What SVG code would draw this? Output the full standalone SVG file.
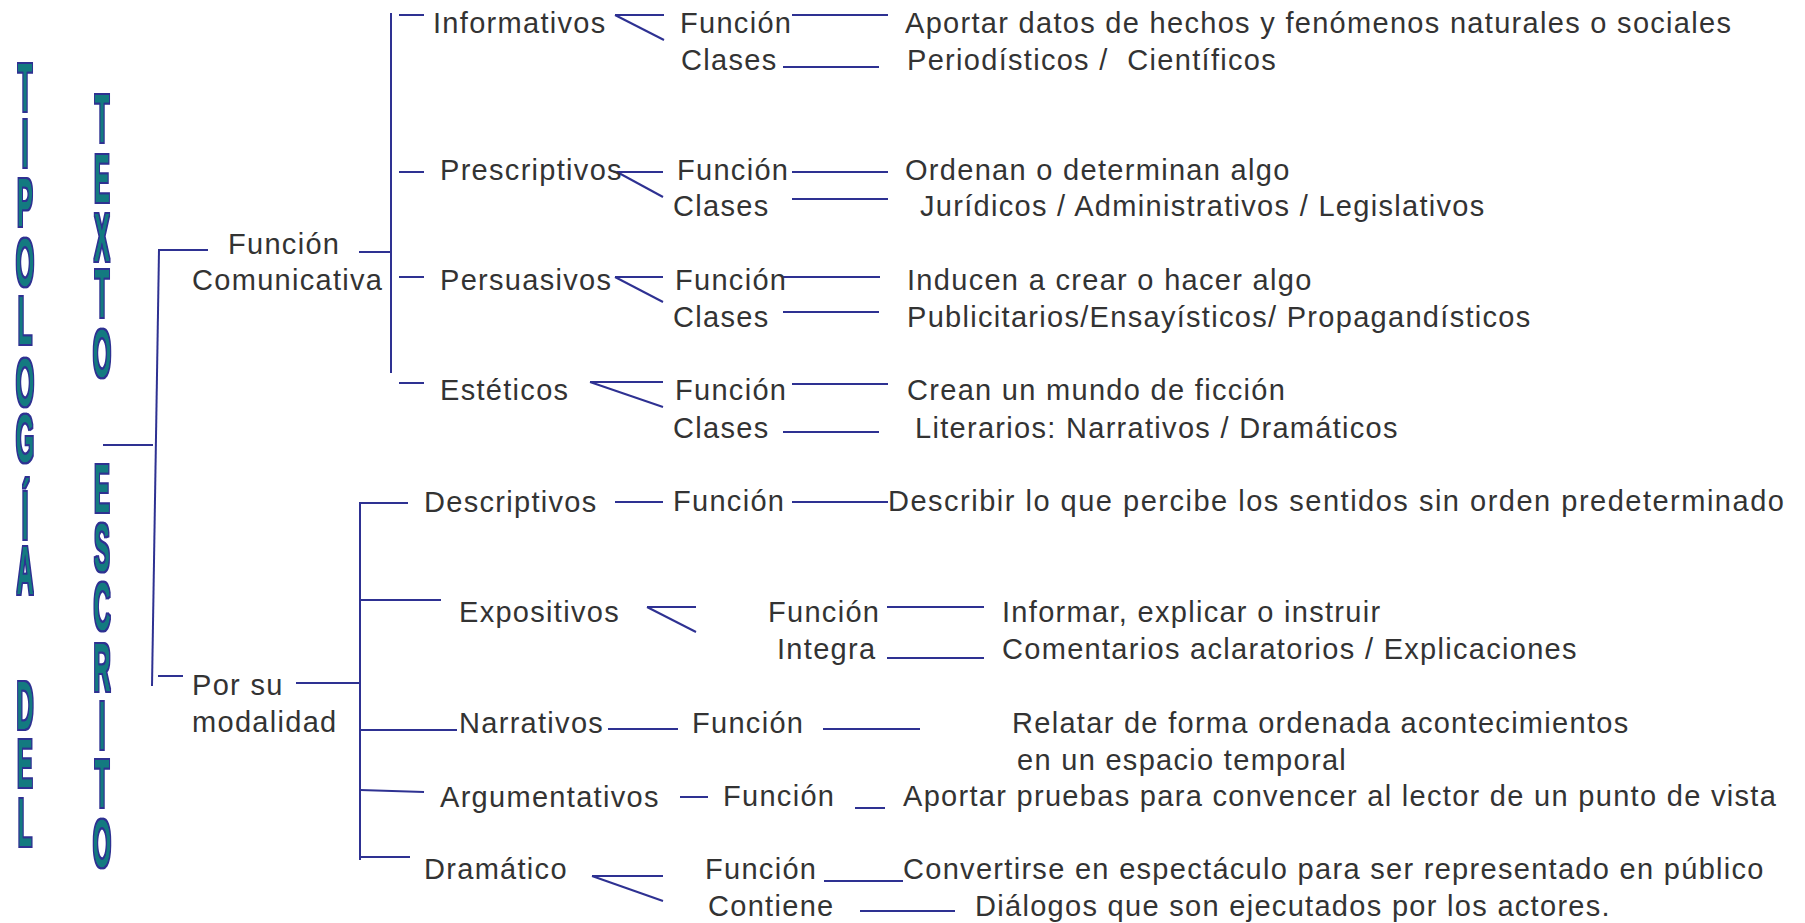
<svg xmlns="http://www.w3.org/2000/svg" width="1805" height="923" viewBox="0 0 1805 923">
<style>
.t{font-family:"Liberation Sans",Arial,Helvetica,sans-serif;font-size:29px;fill:#333333;letter-spacing:1.3px}
.wa{font-family:"Liberation Sans",Arial,Helvetica,sans-serif;font-weight:bold;font-size:68px;fill:#137a80;stroke:none;text-anchor:middle}
.c line{stroke:#2e3192;stroke-width:2;fill:none}
</style>
<defs>
<filter id="outline" x="-0.6" y="-0.05" width="2.2" height="1.1" color-interpolation-filters="sRGB">
<feMorphology in="SourceAlpha" operator="dilate" radius="4.2 1.5" result="d"/>
<feFlood flood-color="#2e3192"/>
<feComposite in2="d" operator="in" result="o"/>
<feMorphology in="SourceAlpha" operator="erode" radius="1.2 0.4" result="e"/>
<feComposite in="SourceGraphic" in2="e" operator="in" result="inner"/>
<feMerge><feMergeNode in="o"/><feMergeNode in="inner"/></feMerge>
</filter>
</defs>
<rect width="1805" height="923" fill="#ffffff"/>

<g id="tipologia-del" transform="translate(25 0) scale(0.35 1)" filter="url(#outline)">
<text class="wa" x="0 0 0 0 0 0 0 0 0" y="111 167 226 286 344 406 462 539 594">TIPOLOGÍA</text>
<text class="wa" x="0 0 0" y="729 787 846">DEL</text>
</g>

<g id="texto-escrito" transform="translate(102 0) scale(0.35 1)" filter="url(#outline)">
<text class="wa" x="0 0 0 0 0" y="142 202 261 317 377">TEXTO</text>
<text class="wa" x="0 0 0 0 0 0 0" y="512 571 630 691 749 807 867">ESCRITO</text>
</g>

<g id="connectors" class="c">
<line x1="103" y1="445" x2="153" y2="445"/>
<line x1="159" y1="250" x2="152" y2="686"/>
<line x1="158" y1="250" x2="208" y2="250"/>
<line x1="158" y1="676" x2="183" y2="676"/>
<line x1="359" y1="252" x2="391" y2="252"/>
<line x1="391" y1="13" x2="391" y2="373"/>
<line x1="399" y1="15" x2="424" y2="15"/>
<line x1="399" y1="172" x2="424" y2="172"/>
<line x1="399" y1="277" x2="424" y2="277"/>
<line x1="399" y1="383" x2="424" y2="383"/>
<line x1="615" y1="15" x2="664" y2="15"/>
<line x1="615" y1="15" x2="664" y2="40"/>
<line x1="792" y1="15" x2="888" y2="15"/>
<line x1="783" y1="67" x2="879" y2="67"/>
<line x1="617" y1="172" x2="663" y2="172"/>
<line x1="617" y1="172" x2="663" y2="197"/>
<line x1="792" y1="172" x2="888" y2="172"/>
<line x1="792" y1="199" x2="888" y2="199"/>
<line x1="615" y1="277" x2="663" y2="277"/>
<line x1="615" y1="277" x2="663" y2="302"/>
<line x1="783" y1="277" x2="880" y2="277"/>
<line x1="783" y1="312" x2="879" y2="312"/>
<line x1="590" y1="382" x2="663" y2="382"/>
<line x1="590" y1="382" x2="663" y2="407"/>
<line x1="792" y1="384" x2="888" y2="384"/>
<line x1="783" y1="432" x2="879" y2="432"/>
<line x1="296" y1="683" x2="360" y2="683"/>
<line x1="360" y1="502" x2="360" y2="860"/>
<line x1="360" y1="503" x2="408" y2="503"/>
<line x1="360" y1="600" x2="441" y2="600"/>
<line x1="360" y1="730" x2="457" y2="730"/>
<line x1="360" y1="790" x2="424" y2="792"/>
<line x1="360" y1="857" x2="410" y2="857"/>
<line x1="615" y1="502" x2="663" y2="502"/>
<line x1="792" y1="502" x2="888" y2="502"/>
<line x1="647" y1="607" x2="696" y2="607"/>
<line x1="647" y1="607" x2="696" y2="632"/>
<line x1="887" y1="607" x2="984" y2="607"/>
<line x1="887" y1="658" x2="984" y2="658"/>
<line x1="608" y1="729" x2="678" y2="729"/>
<line x1="823" y1="729" x2="920" y2="729"/>
<line x1="680" y1="797" x2="708" y2="797"/>
<line x1="855" y1="808" x2="885" y2="808"/>
<line x1="592" y1="876" x2="663" y2="876"/>
<line x1="592" y1="876" x2="663" y2="901"/>
<line x1="824" y1="881" x2="903" y2="881"/>
<line x1="860" y1="911" x2="955" y2="911"/>
</g>

<g id="funcion-comunicativa">
<text class="t" x="228" y="254">Función</text>
<text class="t" x="192" y="290">Comunicativa</text>
</g>
<g id="por-su-modalidad">
<text class="t" x="192" y="695">Por su</text>
<text class="t" x="192" y="732">modalidad</text>
</g>

<g id="informativos">
<text class="t" x="433" y="33">Informativos</text>
<text class="t" x="680" y="33">Función</text>
<text class="t" x="681" y="70">Clases</text>
<text class="t" x="905" y="33">Aportar datos de hechos y fenómenos naturales o sociales</text>
<text class="t" x="907" y="70" xml:space="preserve">Periodísticos /  Científicos</text>
</g>

<g id="prescriptivos">
<text class="t" x="440" y="180">Prescriptivos</text>
<text class="t" x="677" y="180">Función</text>
<text class="t" x="673" y="216">Clases</text>
<text class="t" x="905" y="180">Ordenan o determinan algo</text>
<text class="t" x="920" y="216">Jurídicos / Administrativos / Legislativos</text>
</g>

<g id="persuasivos">
<text class="t" x="440" y="290">Persuasivos</text>
<text class="t" x="675" y="290">Función</text>
<text class="t" x="673" y="327">Clases</text>
<text class="t" x="907" y="290">Inducen a crear o hacer algo</text>
<text class="t" x="907" y="327">Publicitarios/Ensayísticos/ Propagandísticos</text>
</g>

<g id="esteticos">
<text class="t" x="440" y="400">Estéticos</text>
<text class="t" x="675" y="400">Función</text>
<text class="t" x="673" y="438">Clases</text>
<text class="t" x="907" y="400">Crean un mundo de ficción</text>
<text class="t" x="915" y="438">Literarios: Narrativos / Dramáticos</text>
</g>

<g id="descriptivos">
<text class="t" x="424" y="512">Descriptivos</text>
<text class="t" x="673" y="511">Función</text>
<text class="t" x="888" y="511" style="letter-spacing:1.5px">Describir lo que percibe los sentidos sin orden predeterminado</text>
</g>

<g id="expositivos">
<text class="t" x="459" y="622">Expositivos</text>
<text class="t" x="768" y="622">Función</text>
<text class="t" x="777" y="659">Integra</text>
<text class="t" x="1002" y="622">Informar, explicar o instruir</text>
<text class="t" x="1002" y="659">Comentarios aclaratorios / Explicaciones</text>
</g>

<g id="narrativos">
<text class="t" x="459" y="733">Narrativos</text>
<text class="t" x="692" y="733">Función</text>
<text class="t" x="1012" y="733">Relatar de forma ordenada acontecimientos</text>
<text class="t" x="1017" y="770">en un espacio temporal</text>
</g>

<g id="argumentativos">
<text class="t" x="440" y="807">Argumentativos</text>
<text class="t" x="723" y="806">Función</text>
<text class="t" x="903" y="806">Aportar pruebas para convencer al lector de un punto de vista</text>
</g>

<g id="dramatico">
<text class="t" x="424" y="879">Dramático</text>
<text class="t" x="705" y="879">Función</text>
<text class="t" x="708" y="916">Contiene</text>
<text class="t" x="903" y="879">Convertirse en espectáculo para ser representado en público</text>
<text class="t" x="975" y="916">Diálogos que son ejecutados por los actores.</text>
</g>
</svg>
